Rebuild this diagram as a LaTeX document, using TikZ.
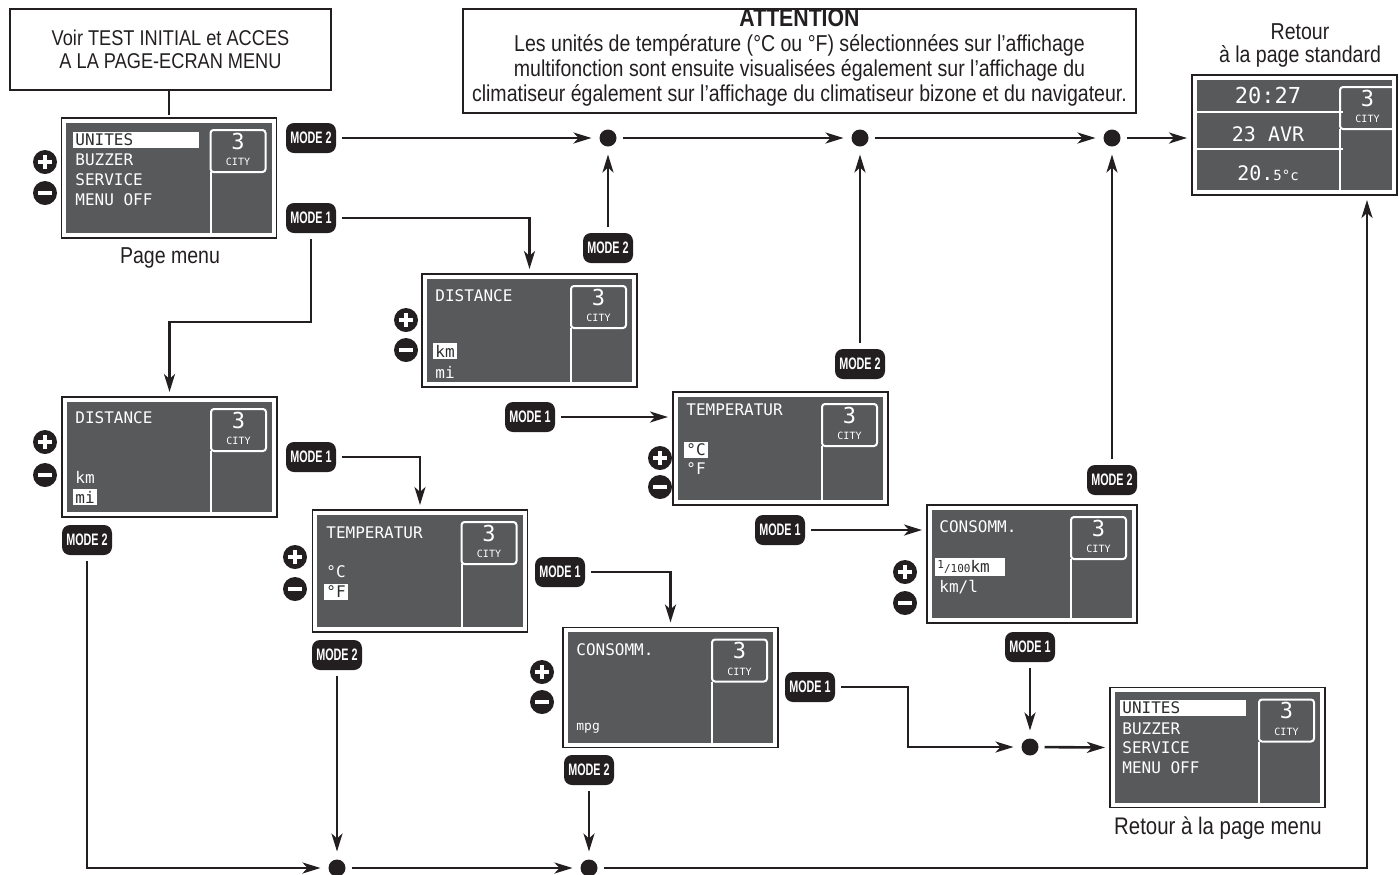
\documentclass[tikz,border=0pt]{standalone}
\usepackage{fontspec}
\setmainfont{Liberation Sans}[FakeStretch=0.85]
\setmonofont{DejaVu Sans Mono}
\newfontfamily\btnfont{Liberation Sans}[FakeStretch=0.65]
\usetikzlibrary{positioning,calc,arrows.meta}
\definecolor{ink}{HTML}{231F20}
\definecolor{lcd}{HTML}{58595B}

\begin{document}
\begin{tikzpicture}[
    x=0.5pt, y=-0.5pt,
    cityshift/.store in=\cityshift, cityshift=0pt,
    screen/.style={draw=ink, line width=0.7pt, fill=white, inner sep=0pt, outer sep=1.5pt,
        minimum width=107.5pt, minimum height=60pt,
        path picture={
            \fill[lcd] ([shift={(2.3pt,2.3pt)}]path picture bounding box.south west)
                rectangle ([shift={(-2.3pt,-2.3pt)}]path picture bounding box.north east);
            \draw[white, line width=1pt, rounded corners=1.5pt]
                ([shift={(-33pt+\cityshift,-6pt)}]path picture bounding box.north east)
                rectangle ([shift={(-5.5pt+\cityshift,-27pt)}]path picture bounding box.north east);
            \draw[white, line width=1pt]
                ([shift={(-33pt+\cityshift,-27pt)}]path picture bounding box.north east)
                -- ([xshift=-33pt+\cityshift]path picture bounding box.south east);
            \node[text=white, font=\ttfamily\fontsize{11}{11}\selectfont, inner sep=0pt] (cnum)
                at ([shift={(-19.25pt+\cityshift,-11.5pt)}]path picture bounding box.north east) {3};
            \node[text=white, font=\ttfamily\fontsize{5}{5}\selectfont, inner sep=0pt] (ccity)
                at ([shift={(-19.25pt+\cityshift,-22pt)}]path picture bounding box.north east) {CITY};
        }},
    lcdtext/.style={text=white, font=\ttfamily\fontsize{8}{8}\selectfont, inner sep=1pt, anchor=west},
    lcdsel/.style={lcdtext, fill=white, text=lcd!50!black},
    lcdline/.style={white, line width=1pt},
    pm/.style={circle, fill=ink, minimum size=12pt, inner sep=0pt},
    plusicon/.style={pm, path picture={
        \draw[white, line width=2pt]
            ([xshift=-3.4pt]path picture bounding box.center) -- ([xshift=3.4pt]path picture bounding box.center)
            ([yshift=-3.4pt]path picture bounding box.center) -- ([yshift=3.4pt]path picture bounding box.center);}},
    minusicon/.style={pm, path picture={
        \draw[white, line width=2pt]
            ([xshift=-3.4pt]path picture bounding box.center) -- ([xshift=3.4pt]path picture bounding box.center);}},
    modebtn/.style={fill=ink, rounded corners=4pt, minimum width=25pt, minimum height=15pt,
        inner sep=0pt, outer sep=3pt, text=white, font=\btnfont\bfseries\fontsize{8.3}{8.3}\selectfont},
    dot/.style={circle, fill=ink, minimum size=8.5pt, inner sep=0pt, outer sep=3pt},
    notebox/.style={draw=ink, line width=0.7pt, inner sep=0pt, align=center, text=ink},
    caption/.style={text=ink, align=center, font=\fontsize{11.5}{11.5}\selectfont},
    link/.style={draw=ink, line width=1.3pt},
    flow/.style={link, -{Stealth[length=9pt,width=5.5pt,inset=2.5pt]}, shorten >=1pt}
]
\useasboundingbox (0,0) rectangle (1399,874);

% Text boxes
\node[notebox, minimum width=160.5pt, minimum height=40.5pt, font=\fontsize{10.7}{11.5}\selectfont]
    (voir) at (170.5,49.5) {Voir TEST INITIAL et ACCES\\A LA PAGE-ECRAN MENU};
\node[notebox, minimum width=336.5pt, minimum height=52pt] (attn) at (799.5,61) {};
\node[text=ink, align=center, inner sep=0pt, font=\fontsize{11.5}{12.5}\selectfont] (attn-txt) at (799.5,58)
    {{\fontsize{12.5}{12.5}\selectfont\bfseries ATTENTION}\\
    Les unités de température (°C ou °F) sélectionnées sur l’affichage\\
    multifonction sont ensuite visualisées également sur l’affichage du\\
    climatiseur également sur l’affichage du climatiseur bizone et du navigateur.};

% Screens
\node[screen] (menu) at (169,178) {};
\node[screen, minimum height=56.5pt] (dist1) at (529.5,330.5) {};
\node[screen] (dist2) at (169.5,457) {};
\node[screen, minimum height=61pt] (tempF) at (420,571) {};
\node[screen] (mpg) at (670.5,687.5) {};
\node[screen, minimum height=56.5pt] (tempC) at (780.5,448.5) {};
\node[screen, minimum width=105pt, minimum height=59pt] (cons) at (1032,564) {};
\node[screen] (ret) at (1217.5,747.5) {};
\node[screen, minimum width=102.5pt, cityshift=4.5pt] (std) at (1294.5,135) {};
\draw[lcdline] ($(std.north west)+(4,40)$) -- ($(std.north east)+(-57,40)$);
\draw[lcdline] ($(std.north west)+(4,77)$) -- ($(std.north east)+(-57,77)$);

% Screen texts
\node[lcdsel, text width=61pt] (menu-a) at (73,140) {UNITES};
\node[lcdtext] (menu-b) at (73,160) {BUZZER};
\node[lcdtext] (menu-c) at (73,180) {SERVICE};
\node[lcdtext] (menu-d) at (73,200) {MENU OFF};

\node[lcdtext] (dist1-a) at (433,296) {DISTANCE};
\node[lcdsel] (dist1-b) at (433,351) {km};
\node[lcdtext] (dist1-c) at (433,372) {mi};

\node[lcdtext] (dist2-a) at (73,418) {DISTANCE};
\node[lcdtext] (dist2-b) at (73,477) {km};
\node[lcdsel] (dist2-c) at (73,497) {mi};

\node[lcdtext] (tempF-a) at (324,533) {TEMPERATUR};
\node[lcdtext] (tempF-b) at (324,572) {°C};
\node[lcdsel] (tempF-c) at (324,592) {°F};

\node[lcdtext] (mpg-a) at (574,650) {CONSOMM.};
\node[lcdtext, font=\ttfamily\fontsize{6.5}{6.5}\selectfont] (mpg-b) at (574,728) {mpg};

\node[lcdtext] (tempC-a) at (684,410) {TEMPERATUR};
\node[lcdsel] (tempC-b) at (684,450) {°C};
\node[lcdtext] (tempC-c) at (684,469) {°F};

\node[lcdtext] (cons-a) at (937,527) {CONSOMM.};
\node[lcdsel, text width=33pt] (cons-b) at (935,567)
    {{\fontsize{5.5}{6}\selectfont\raisebox{2pt}{1}/100}km};
\node[lcdtext] (cons-c) at (937,587) {km/l};

\node[lcdsel, text width=61pt] (ret-a) at (1120,708) {UNITES};
\node[lcdtext] (ret-b) at (1120,729) {BUZZER};
\node[lcdtext] (ret-c) at (1120,748) {SERVICE};
\node[lcdtext] (ret-d) at (1120,768) {MENU OFF};

\node[lcdtext, anchor=center, font=\ttfamily\fontsize{11}{11}\selectfont] (std-a) at (1268,95) {20:27};
\node[lcdtext, anchor=center, font=\ttfamily\fontsize{10}{10}\selectfont] (std-b) at (1268,134) {23 AVR};
\node[lcdtext, anchor=center, font=\ttfamily\fontsize{10}{10}\selectfont] (std-c) at (1268,173)
    {20.{\fontsize{7}{7}\selectfont 5°c}};

% Captions
\node[caption] (menucap) at (170,258) {Page menu};
\node[caption, font=\fontsize{12}{12}\selectfont] (retcap) at (1218,828) {Retour à la page menu};
\node[caption] (stdcap) at (1300,45) {Retour\\à la page standard};

% Plus / minus keys
\node[plusicon] (menu-p) at (45,162) {};
\node[minusicon] (menu-m) at (45,193) {};
\node[plusicon] (dist1-p) at (406,320) {};
\node[minusicon] (dist1-m) at (406,350) {};
\node[plusicon] (dist2-p) at (45,442) {};
\node[minusicon] (dist2-m) at (45,475) {};
\node[plusicon] (tempF-p) at (295,557) {};
\node[minusicon] (tempF-m) at (295,589) {};
\node[plusicon] (mpg-p) at (542,672) {};
\node[minusicon] (mpg-m) at (542,702) {};
\node[plusicon] (tempC-p) at (660,458) {};
\node[minusicon] (tempC-m) at (660,487) {};
\node[plusicon] (cons-p) at (905,572) {};
\node[minusicon] (cons-m) at (905,603) {};

% MODE keys
\node[modebtn] (m2a) at (311,138) {MODE 2};
\node[modebtn] (m1a) at (311,218) {MODE 1};
\node[modebtn] (m2b) at (608,248) {MODE 2};
\node[modebtn] (m1b) at (530,417) {MODE 1};
\node[modebtn] (m2c) at (860,364) {MODE 2};
\node[modebtn] (m1c) at (311,457) {MODE 1};
\node[modebtn] (m2e) at (87,540) {MODE 2};
\node[modebtn] (m1e) at (780,530) {MODE 1};
\node[modebtn] (m2d) at (1112,480) {MODE 2};
\node[modebtn] (m1d) at (560,572) {MODE 1};
\node[modebtn] (m2f) at (337,655) {MODE 2};
\node[modebtn] (m1g) at (1030,647) {MODE 1};
\node[modebtn] (m1f) at (810,687) {MODE 1};
\node[modebtn] (m2g) at (589,770) {MODE 2};

% Junction dots
\node[dot] (d1) at (608,138) {};
\node[dot] (d2) at (860,138) {};
\node[dot] (d3) at (1112,138) {};
\node[dot] (d4) at (337,868) {};
\node[dot] (d5) at (589,868) {};
\node[dot] (d6) at (1030,747) {};

% Top row: back to standard page
\draw[link] (voir.south -| menu.north) -- (menu.north);
\draw[flow] (m2a) -- (d1);
\draw[flow] (d1) -- (d2);
\draw[flow] (d2) -- (d3);
\draw[flow] (d3) -- (d3 -| std.west);
\draw[flow] (m2b) -- (d1);
\draw[flow] (m2c) -- (d2);
\draw[flow] (m2d) -- (d3);

% MODE 1 chains
\draw[flow] (m1a.east) -| (dist1.north);
\draw[flow] (m1a.south) -- ++(0,83) -| (dist2.north);
\draw[flow] (m1b) -- (m1b -| tempC.west);
\draw[flow] (m1e) -- (m1e -| cons.west);
\draw[flow] (m1c.east) -| (tempF.north);
\draw[flow] (m1d.east) -| (mpg.north);
\draw[flow] (m1f.east) -- ++(67,0) |- (d6);
\draw[flow] (m1g) -- (d6);
\draw[flow] (d6) -- (ret.west);

% Bottom row
\draw[flow] (m2e.south) |- (d4);
\draw[flow] (m2f) -- (d4);
\draw[flow] (d4) -- (d5);
\draw[flow] (m2g) -- (d5);
\draw[flow] (d5) -| ($(std.south)+(72.5,0)$);

\end{tikzpicture}
\end{document}
